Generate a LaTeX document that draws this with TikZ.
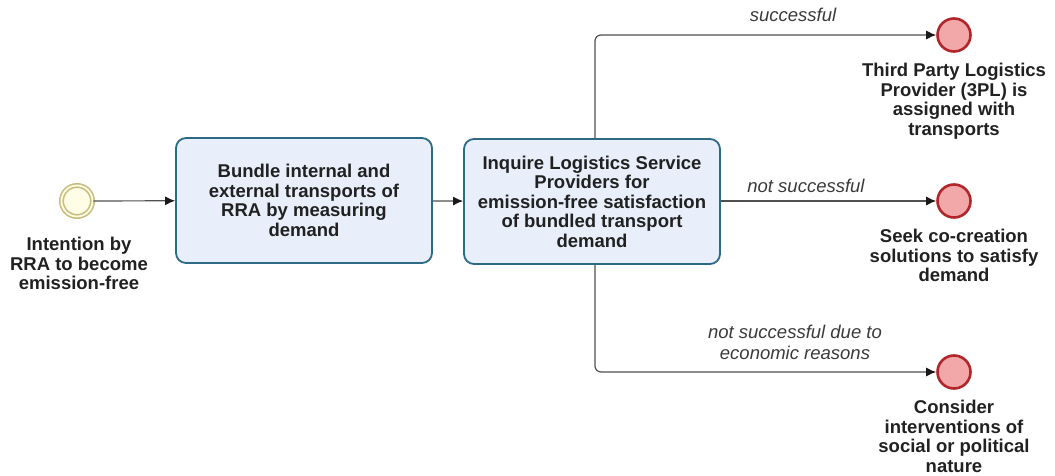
\documentclass[tikz,border=0pt]{standalone}
\usepackage{fontspec}
\setmainfont{Liberation Sans}
\usetikzlibrary{arrows.meta}
\definecolor{taskfill}{HTML}{E8EFFA}
\definecolor{taskline}{HTML}{2E6A86}
\definecolor{startfill}{HTML}{FFFDE6}
\definecolor{startline}{HTML}{C8BC7E}
\definecolor{endfill}{HTML}{F2A7A9}
\definecolor{endline}{HTML}{B0262B}
\definecolor{flowline}{HTML}{505050}
\definecolor{labeltext}{HTML}{3A3A3A}
\begin{document}
\begin{tikzpicture}[x=1pt,y=-1pt,
  task/.style={draw=taskline,fill=taskfill,line width=1.8pt,rounded corners=10pt,
    minimum width=256pt,minimum height=125pt,inner sep=0pt,
    font=\fontsize{18.5}{19.5}\selectfont\bfseries,text=black!87,align=center},
  startev/.style={circle,draw=startline,fill=startfill,line width=1.6pt,double=startfill,
    double distance=1.8pt,minimum size=31pt,inner sep=0pt},
  endev/.style={circle,draw=endline,fill=endfill,line width=2.6pt,minimum size=33pt,inner sep=0pt},
  evlabel/.style={font=\fontsize{18.5}{19.5}\selectfont\bfseries,text=black!87,align=center,anchor=north,inner sep=0pt},
  flow/.style={draw=flowline,line width=1.2pt,rounded corners=6pt,
    -{Latex[length=10pt,width=9pt,color=black!90]}},
  flowlabel/.style={font=\fontsize{18.5}{21}\selectfont\itshape,text=labeltext,align=center,inner sep=0pt}]
\useasboundingbox (0,0) rectangle (1055,476);

% events and tasks
\node[startev] (start) at (77,201) {};
\node[evlabel] (startlbl) at (79,237) {Intention by\\RRA to become\\emission-free};

\node[task] (bundle) at (304,200.5) {Bundle internal and\\external transports of\\RRA by measuring\\demand};
\node[task] (inquire) at (592,201.5) {Inquire Logistics Service\\Providers for\\emission-free satisfaction\\of bundled transport\\demand};

\node[endev] (tpl) at (954,35) {};
\node[evlabel] (tpllbl) at (954,63) {Third Party Logistics\\Provider (3PL) is\\assigned with\\transports};

\node[endev] (cocreate) at (954,201) {};
\node[evlabel] (cocreatelbl) at (954,229) {Seek co-creation\\solutions to satisfy\\demand};

\node[endev] (interv) at (954,372) {};
\node[evlabel] (intervlbl) at (954,400) {Consider\\interventions of\\social or political\\nature};

% sequence flows
\draw[flow] (start) -- (bundle);
\draw[flow] (bundle) -- (inquire);
\coordinate (up) at (595,35);
\coordinate (down) at (595,372);
\draw[flow] (inquire.north -| up) -- (up) -- (tpl);
\draw[flow] (inquire.east |- cocreate) -- (cocreate);
\draw[flow] (inquire.south -| down) -- (down) -- (interv);

% flow labels
\node[flowlabel] (l1) at (793,15) {successful};
\node[flowlabel] (l2) at (806,186) {not successful};
\node[flowlabel] (l3) at (795,342.5) {not successful due to\\economic reasons};
\end{tikzpicture}
\end{document}
